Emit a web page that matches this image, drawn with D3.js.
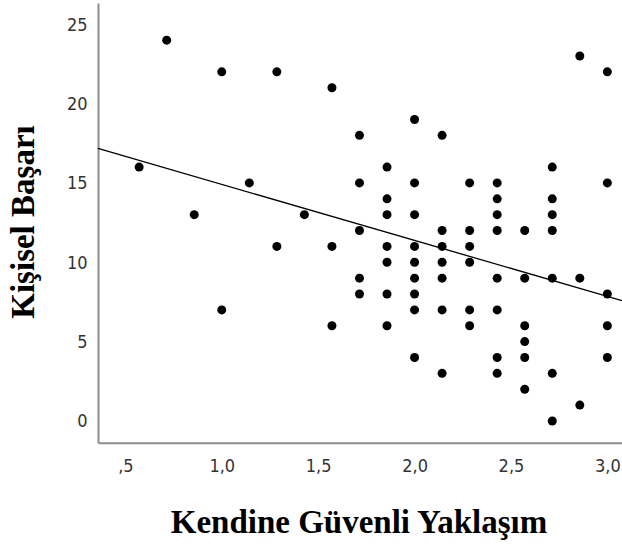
<!DOCTYPE html>
<html>
<head>
<meta charset="utf-8">
<script src="https://cdn.jsdelivr.net/npm/d3@7"></script>
<style>
  body { margin: 0; background: #fff; }
  svg { display: block; }
</style>
</head>
<body>
<svg></svg>
<script>
// x values are steps of 1/7 on the scale; y values are integers
const xSteps = [4, 5, 6, 7, 8, 9, 10, 11, 12, 13, 14, 15, 16, 17, 18, 19, 20, 21];
// y values observed in each x column (same order as xSteps)
const yByColumn = [
  [16],
  [24],
  [13],
  [22, 7],
  [15],
  [22, 11],
  [13],
  [21, 11, 6],
  [18, 15, 12, 9, 8],
  [16, 14, 13, 11, 10, 8, 6],
  [19, 15, 13, 11, 10, 9, 8, 7, 4],
  [18, 12, 11, 10, 9, 7, 3],
  [15, 12, 11, 10, 7, 6],
  [15, 14, 13, 12, 9, 7, 4, 3],
  [12, 9, 6, 5, 4, 2],
  [16, 14, 13, 12, 9, 3, 0],
  [23, 9, 1],
  [22, 15, 8, 6, 4]
];
const xTicks = [0.5, 1.0, 1.5, 2.0, 2.5, 3.0];
const yTicks = [0, 5, 10, 15, 20, 25];
const fitIntercept = 18.44;
const fitSlope = -3.53;

const points = [];
xSteps.forEach((s, i) => yByColumn[i].forEach(v => points.push({x: s / 7, y: v})));

const width = 622, height = 547;
const margin = {left: 98, right: 0, top: 3, bottom: 105};

const svg = d3.select("svg").attr("width", width).attr("height", height);

const x = d3.scaleLinear().domain([0.358, 3.076]).range([margin.left, width - margin.right]);
const y = d3.scaleLinear().domain([-1.37, 26.34]).range([height - margin.bottom + 0.7, margin.top]);

const fmt = d => d3.format(".1f")(d).replace(/^0\./, ".").replace(".", ",");
const tickFont = "18px 'DejaVu Sans Condensed', 'DejaVu Sans', sans-serif";

// axes
svg.append("g")
  .attr("transform", `translate(0,${y(-1.37)})`)
  .call(d3.axisBottom(x).tickValues(xTicks).tickSize(0).tickPadding(17).tickFormat(fmt))
  .call(g => g.select(".domain").attr("stroke", "#8c8c8c").attr("stroke-width", 2))
  .call(g => g.selectAll("text").attr("fill", "#333").style("font", tickFont));

svg.append("g")
  .attr("transform", `translate(${margin.left},0)`)
  .call(d3.axisLeft(y).tickValues(yTicks).tickSize(0).tickPadding(10.5))
  .call(g => g.select(".domain").attr("stroke", "#8c8c8c").attr("stroke-width", 2))
  .call(g => g.selectAll("text").attr("fill", "#333").style("font", tickFont));

// points
svg.append("g")
  .selectAll("circle")
  .data(points)
  .join("circle")
  .attr("cx", d => x(d.x))
  .attr("cy", d => y(d.y))
  .attr("r", 4.5)
  .attr("fill", "#000");

// fit line
const xd = x.domain();
svg.append("line")
  .attr("x1", x(xd[0])).attr("y1", y(fitIntercept + fitSlope * xd[0]))
  .attr("x2", x(xd[1])).attr("y2", y(fitIntercept + fitSlope * xd[1]))
  .attr("stroke", "#000").attr("stroke-width", 1.3);

// titles
svg.append("text")
  .attr("x", 359).attr("y", 533)
  .attr("text-anchor", "middle")
  .style("font", "bold 33px 'Liberation Serif', serif")
  .text("Kendine Güvenli Yaklaşım");

svg.append("text")
  .attr("transform", "translate(34,222) rotate(-90)")
  .attr("text-anchor", "middle")
  .style("font", "bold 33px 'Liberation Serif', serif")
  .text("Kişisel Başarı");
</script>
</body>
</html>
